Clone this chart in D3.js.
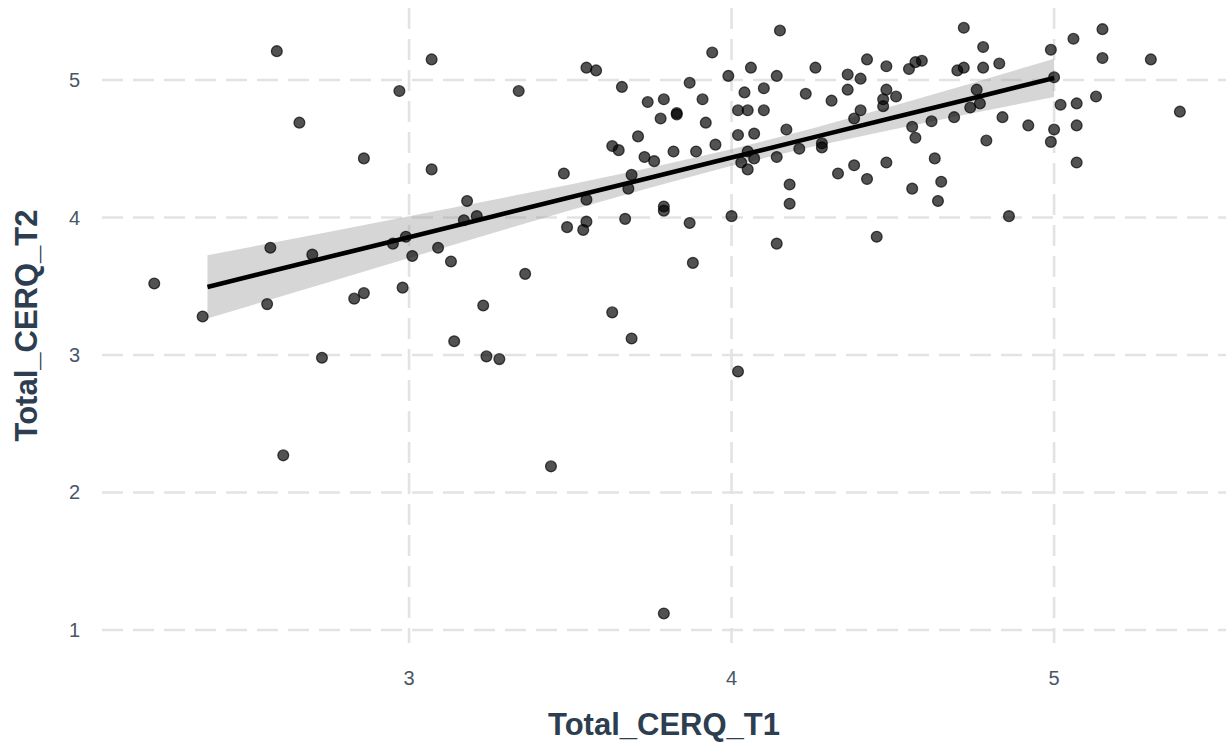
<!DOCTYPE html>
<html>
<head>
<meta charset="utf-8">
<script src="https://cdn.jsdelivr.net/npm/d3@7"></script>
<style>
  body { margin: 0; background: #fff; }
  svg { display: block; font-family: "Liberation Sans", Arial, Helvetica, sans-serif; }
</style>
</head>
<body>
<svg id="chart" width="1226" height="747"></svg>
<script>
// Total_CERQ_T1 (x) and Total_CERQ_T2 (y)
const t1 = [
  2.59,3.07,2.97,2.66,2.86,3.07,3.18,3.17,3.21,2.57,
  2.70,2.21,2.36,2.56,2.83,2.86,2.98,2.95,2.99,3.01,
  3.09,3.13,3.14,2.73,2.61,3.23,3.24,3.28,3.36,3.88,
  3.63,3.69,4.02,3.44,3.79,3.34,3.55,3.58,3.66,3.94,
  3.99,4.06,3.87,3.74,3.79,3.91,4.04,3.78,3.83,3.83,
  3.92,4.02,4.05,4.10,3.71,3.63,3.65,3.73,3.76,3.82,
  3.89,3.95,4.02,4.07,4.05,4.07,4.03,4.05,3.48,3.69,
  3.68,3.55,3.79,3.79,3.49,3.54,3.55,3.67,3.87,4.00,
  4.15,4.14,4.26,4.10,4.23,4.31,4.36,4.36,4.40,4.42,
  4.48,4.48,4.47,4.47,4.51,4.55,4.57,4.59,4.72,4.78,
  4.70,4.72,4.78,4.76,4.74,4.77,4.69,4.62,4.56,4.57,
  4.40,4.38,4.17,4.21,4.28,4.28,4.14,4.38,4.48,4.33,
  4.42,4.63,4.65,4.56,4.64,4.18,4.18,4.79,4.14,4.45,
  4.83,4.84,4.92,4.99,5.00,5.06,5.15,5.15,5.30,5.02,
  5.07,5.13,5.39,5.00,4.99,5.07,5.07,4.86
];
const t2 = [
  5.21,5.15,4.92,4.69,4.43,4.35,4.12,3.98,4.01,3.78,
  3.73,3.52,3.28,3.37,3.41,3.45,3.49,3.81,3.86,3.72,
  3.78,3.68,3.10,2.98,2.27,3.36,2.99,2.97,3.59,3.67,
  3.31,3.12,2.88,2.19,1.12,4.92,5.09,5.07,4.95,5.20,
  5.03,5.09,4.98,4.84,4.86,4.86,4.91,4.72,4.75,4.76,
  4.69,4.78,4.78,4.78,4.59,4.52,4.49,4.44,4.41,4.48,
  4.48,4.53,4.60,4.61,4.48,4.43,4.40,4.35,4.32,4.31,
  4.21,4.13,4.08,4.05,3.93,3.91,3.97,3.99,3.96,4.01,
  5.36,5.03,5.09,4.94,4.90,4.85,4.93,5.04,5.01,5.15,
  5.10,4.93,4.86,4.81,4.88,5.08,5.13,5.14,5.38,5.24,
  5.07,5.09,5.09,4.93,4.80,4.83,4.73,4.70,4.66,4.58,
  4.78,4.72,4.64,4.50,4.51,4.54,4.44,4.38,4.40,4.32,
  4.28,4.43,4.26,4.21,4.12,4.24,4.10,4.56,3.81,3.86,
  5.12,4.73,4.67,5.22,5.02,5.30,5.37,5.16,5.15,4.82,
  4.83,4.88,4.77,4.64,4.55,4.67,4.40,4.01
];

// fitted line and its confidence band
const fitX    = [2.375, 2.75, 3.0, 3.25, 3.5, 3.75, 4.0, 4.25, 4.5, 4.75, 5.0];
const fitY    = [3.495, 3.712, 3.857, 4.002, 4.147, 4.291, 4.436, 4.581, 4.726, 4.870, 5.015];
const fitLow  = [3.265, 3.530, 3.705, 3.880, 4.053, 4.219, 4.376, 4.515, 4.641, 4.760, 4.876];
const fitHigh = [3.725, 3.895, 4.009, 4.124, 4.241, 4.363, 4.496, 4.647, 4.811, 4.981, 5.154];

const xTicks = [3, 4, 5];
const yTicks = [1, 2, 3, 4, 5];
const xTitle = "Total_CERQ_T1";
const yTitle = "Total_CERQ_T2";

const svg = d3.select("#chart");
const panel = { left: 102, right: 1226, top: 8, bottom: 643 };

const x = d3.scaleLinear().domain([2.048, 5.533]).range([panel.left, panel.right]);
const y = d3.scaleLinear().domain([0.905, 5.524]).range([panel.bottom, panel.top]);

// grid
const grid = svg.append("g")
    .attr("stroke", "#e3e3e3")
    .attr("stroke-width", 2.6)
    .attr("stroke-dasharray", "21,10");

grid.selectAll(".gy").data(yTicks).join("line")
    .attr("x1", panel.left).attr("x2", panel.right)
    .attr("y1", d => y(d)).attr("y2", d => y(d));

grid.selectAll(".gx").data(xTicks).join("line")
    .attr("y1", panel.top).attr("y2", panel.bottom)
    .attr("x1", d => x(d)).attr("x2", d => x(d));

// confidence band
const fit = fitX.map((v, i) => ({ x: v, y: fitY[i], lo: fitLow[i], hi: fitHigh[i] }));

svg.append("path")
    .datum(fit)
    .attr("fill", "#999999")
    .attr("fill-opacity", 0.4)
    .attr("d", d3.area().x(d => x(d.x)).y0(d => y(d.lo)).y1(d => y(d.hi)));

// points
const pts = t1.map((v, i) => ({ x: v, y: t2[i] }));

svg.append("g").selectAll("circle")
    .data(pts)
    .join("circle")
    .attr("cx", d => x(d.x))
    .attr("cy", d => y(d.y))
    .attr("r", 5.4)
    .attr("fill", "#000")
    .attr("fill-opacity", 0.68)
    .attr("stroke", "#000")
    .attr("stroke-opacity", 0.68)
    .attr("stroke-width", 1.3);

// regression line
svg.append("path")
    .datum(fit)
    .attr("fill", "none")
    .attr("stroke", "#000")
    .attr("stroke-width", 4.6)
    .attr("d", d3.line().x(d => x(d.x)).y(d => y(d.y)));

// tick labels
svg.append("g").selectAll("text")
    .data(xTicks)
    .join("text")
    .attr("x", d => x(d))
    .attr("y", 678)
    .attr("text-anchor", "middle")
    .attr("dominant-baseline", "central")
    .attr("font-size", 20)
    .attr("fill", "#4a5666")
    .text(d => d);

svg.append("g").selectAll("text")
    .data(yTicks)
    .join("text")
    .attr("x", 80)
    .attr("y", d => y(d))
    .attr("text-anchor", "end")
    .attr("dominant-baseline", "central")
    .attr("font-size", 20)
    .attr("fill", "#4a5666")
    .text(d => d);

// axis titles
svg.append("text")
    .attr("x", (panel.left + panel.right) / 2)
    .attr("y", 735)
    .attr("text-anchor", "middle")
    .attr("font-size", 31)
    .attr("font-weight", "bold")
    .attr("fill", "#2c3e50")
    .text(xTitle);

svg.append("text")
    .attr("transform", `translate(37,${(panel.top + panel.bottom) / 2}) rotate(-90)`)
    .attr("text-anchor", "middle")
    .attr("font-size", 31)
    .attr("font-weight", "bold")
    .attr("fill", "#2c3e50")
    .text(yTitle);
</script>
</body>
</html>
